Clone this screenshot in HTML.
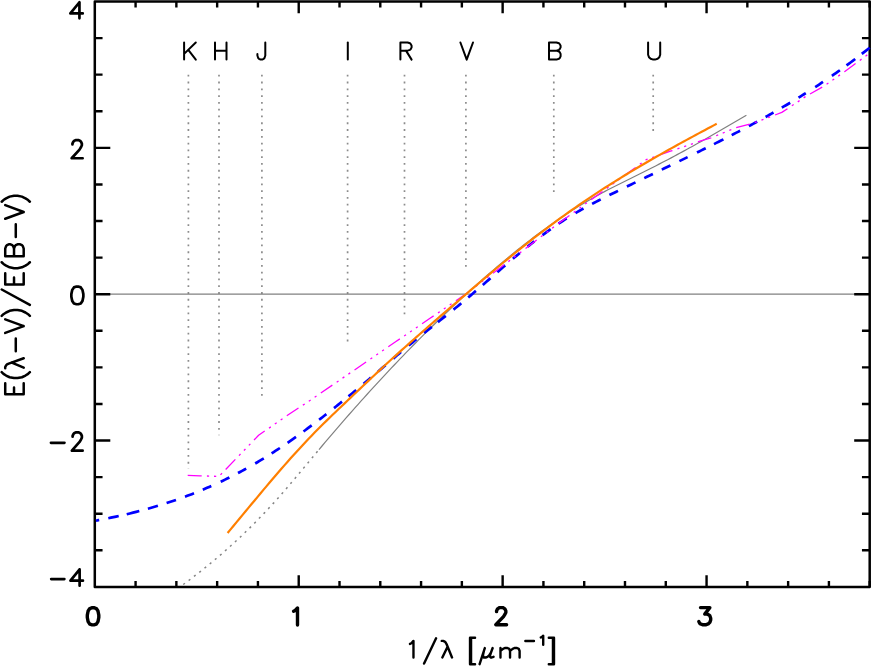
<!DOCTYPE html>
<html>
<head>
<meta charset="utf-8">
<title>Extinction curve</title>
<style>
html,body{margin:0;padding:0;background:#fff;font-family:"Liberation Sans",sans-serif;}
svg{display:block;}
</style>
</head>
<body>
<svg width="872" height="667" viewBox="0 0 872 667">
<rect x="0" y="0" width="872" height="667" fill="#fff"/>
<line x1="188.40" y1="74.8" x2="188.40" y2="468.80" stroke="#8c8c8c" stroke-width="1.7" stroke-dasharray="1.8 4.99" />
<line x1="219.00" y1="74.8" x2="219.00" y2="435.30" stroke="#8c8c8c" stroke-width="1.7" stroke-dasharray="1.8 4.99" />
<line x1="261.90" y1="74.8" x2="261.90" y2="395.80" stroke="#8c8c8c" stroke-width="1.7" stroke-dasharray="1.8 4.99" />
<line x1="347.60" y1="74.8" x2="347.60" y2="341.50" stroke="#8c8c8c" stroke-width="1.7" stroke-dasharray="1.8 4.99" />
<line x1="404.50" y1="74.8" x2="404.50" y2="315.00" stroke="#8c8c8c" stroke-width="1.7" stroke-dasharray="1.8 4.99" />
<line x1="465.90" y1="74.8" x2="465.90" y2="266.80" stroke="#8c8c8c" stroke-width="1.7" stroke-dasharray="1.8 4.99" />
<line x1="553.80" y1="74.8" x2="553.80" y2="192.10" stroke="#8c8c8c" stroke-width="1.7" stroke-dasharray="1.8 4.99" />
<line x1="653.20" y1="74.8" x2="653.20" y2="131.00" stroke="#8c8c8c" stroke-width="1.7" stroke-dasharray="1.8 4.99" />
<line x1="94.80" y1="294.2" x2="869.70" y2="294.2" stroke="#808080" stroke-width="1.2"/>
<rect x="94.80" y="1.50" width="774.90" height="585.40" fill="none" stroke="#000" stroke-width="2.50" stroke-linejoin="round"/>
<path d="M135.58,586.90 V581.00 M135.58,1.50 V7.40 M176.37,586.90 V581.00 M176.37,1.50 V7.40 M217.15,586.90 V581.00 M217.15,1.50 V7.40 M257.94,586.90 V581.00 M257.94,1.50 V7.40 M298.72,586.90 V575.15 M298.72,1.50 V13.25 M339.51,586.90 V581.00 M339.51,1.50 V7.40 M380.29,586.90 V581.00 M380.29,1.50 V7.40 M421.07,586.90 V581.00 M421.07,1.50 V7.40 M461.86,586.90 V581.00 M461.86,1.50 V7.40 M502.64,586.90 V575.15 M502.64,1.50 V13.25 M543.43,586.90 V581.00 M543.43,1.50 V7.40 M584.21,586.90 V581.00 M584.21,1.50 V7.40 M624.99,586.90 V581.00 M624.99,1.50 V7.40 M665.78,586.90 V581.00 M665.78,1.50 V7.40 M706.56,586.90 V575.15 M706.56,1.50 V13.25 M747.35,586.90 V581.00 M747.35,1.50 V7.40 M788.13,586.90 V581.00 M788.13,1.50 V7.40 M828.92,586.90 V581.00 M828.92,1.50 V7.40 M869.70,586.90 V581.00 M869.70,1.50 V7.40 M94.80,550.31 H102.55 M869.70,550.31 H861.95 M94.80,513.73 H102.55 M869.70,513.73 H861.95 M94.80,477.14 H102.55 M869.70,477.14 H861.95 M94.80,440.55 H110.30 M869.70,440.55 H854.20 M94.80,403.96 H102.55 M869.70,403.96 H861.95 M94.80,367.38 H102.55 M869.70,367.38 H861.95 M94.80,330.79 H102.55 M869.70,330.79 H861.95 M94.80,294.20 H110.30 M869.70,294.20 H854.20 M94.80,257.61 H102.55 M869.70,257.61 H861.95 M94.80,221.02 H102.55 M869.70,221.02 H861.95 M94.80,184.44 H102.55 M869.70,184.44 H861.95 M94.80,147.85 H110.30 M869.70,147.85 H854.20 M94.80,111.26 H102.55 M869.70,111.26 H861.95 M94.80,74.67 H102.55 M869.70,74.67 H861.95 M94.80,38.09 H102.55 M869.70,38.09 H861.95" fill="none" stroke="#000" stroke-width="2.4"/>
<path d="M183.25,584.48 L186.26,582.27 L189.27,580.03 L192.27,577.76 L195.28,575.46 L198.29,573.13 L201.30,570.76 L204.30,568.37 L207.31,565.94 L210.32,563.48 L213.33,560.99 L216.34,558.46 L219.34,555.90 L222.35,553.30 L225.36,550.66 L228.37,547.99 L231.37,545.28 L234.38,542.54 L237.39,539.75 L240.40,536.93 L243.41,534.07 L246.41,531.16 L249.42,528.22 L252.43,525.23 L255.44,522.21 L258.44,519.14 L261.45,516.03 L264.46,512.87 L267.47,509.67 L270.48,506.42 L273.48,503.13 L276.49,499.80 L279.50,496.42 L282.51,492.99 L285.51,489.52 L288.52,486.02 L291.53,482.49 L294.54,478.93 L297.55,475.35 L300.55,471.75 L303.56,468.14 L306.57,464.52 L309.58,460.90 L312.58,457.29 L315.59,453.67 L318.60,450.07" fill="none" stroke="#858585" stroke-width="1.50" stroke-linejoin="round" stroke-linecap="butt" stroke-dasharray="2.1 4.6"/>
<path d="M319.00,449.60 L322.01,446.01 L325.02,442.44 L328.03,438.89 L331.04,435.36 L334.05,431.84 L337.06,428.34 L340.07,424.85 L343.08,421.38 L346.09,417.93 L349.10,414.50 L352.11,411.08 L355.12,407.68 L358.13,404.29 L361.14,400.92 L364.15,397.57 L367.16,394.24 L370.17,390.92 L373.18,387.62 L376.19,384.34 L379.20,381.07 L382.21,377.83 L385.22,374.59 L388.23,371.38 L391.24,368.18 L394.25,365.00 L397.26,361.84 L400.27,358.69 L403.28,355.56 L406.29,352.45 L409.30,349.36 L412.31,346.28 L415.32,343.22 L418.33,340.18 L421.34,337.16 L424.35,334.15 L427.35,331.16 L430.36,328.19 L433.37,325.23 L436.38,322.29 L439.39,319.37 L442.40,316.47 L445.41,313.59 L448.42,310.72 L451.43,307.87 L454.44,305.04 L457.45,302.23 L460.46,299.43 L463.47,296.65 L466.48,293.89 L469.49,291.15 L472.50,288.42 L475.51,285.72 L478.52,283.03 L481.53,280.36 L484.54,277.70 L487.55,275.07 L490.56,272.45 L493.57,269.86 L496.58,267.28 L499.59,264.73 L502.60,262.19 L505.61,259.68 L508.62,257.18 L511.63,254.71 L514.64,252.27 L517.65,249.84 L520.66,247.44 L523.67,245.06 L526.68,242.71 L529.69,240.38 L532.70,238.08 L535.71,235.80 L538.72,233.55 L541.73,231.32 L544.74,229.12 L547.75,226.95 L550.76,224.81 L553.77,222.69 L556.78,220.60 L559.79,218.54 L562.80,216.52 L565.81,214.52 L568.82,212.55 L571.83,210.61 L574.84,208.70 L577.85,206.83 L580.86,204.98 L583.87,203.17 L586.88,201.39 L589.89,199.65 L592.90,197.94 L595.91,196.26 L598.92,194.60 L601.93,192.98 L604.94,191.38 L607.95,189.80 L610.96,188.25 L613.97,186.71 L616.98,185.18 L619.99,183.67 L623.00,182.17 L626.01,180.68 L629.02,179.19 L632.03,177.70 L635.04,176.22 L638.05,174.74 L641.05,173.25 L644.06,171.76 L647.07,170.26 L650.08,168.75 L653.09,167.23 L656.10,165.70 L659.11,164.15 L662.12,162.59 L665.13,161.02 L668.14,159.44 L671.15,157.85 L674.16,156.25 L677.17,154.63 L680.18,153.01 L683.19,151.38 L686.20,149.73 L689.21,148.08 L692.22,146.42 L695.23,144.75 L698.24,143.07 L701.25,141.38 L704.26,139.68 L707.27,137.98 L710.28,136.26 L713.29,134.54 L716.30,132.82 L719.31,131.08 L722.32,129.34 L725.33,127.59 L728.34,125.84 L731.35,124.08 L734.36,122.31 L737.37,120.54 L740.38,118.77 L743.39,116.99 L746.40,115.20" fill="none" stroke="#808080" stroke-width="1.20" stroke-linejoin="round" stroke-linecap="butt"/>
<path d="M95.90,520.61 L96.73,520.46 L97.55,520.30 L98.38,520.15 L99.20,520.00 M108.30,518.22 L110.90,517.69 L113.50,517.15 L116.10,516.59 L118.70,516.02 M126.70,514.19 L129.85,513.44 L133.00,512.66 L136.15,511.87 L139.30,511.05 M147.90,508.72 L150.40,508.01 L152.90,507.29 L155.40,506.55 L157.90,505.80 M166.60,503.08 L168.95,502.31 L171.30,501.53 L173.65,500.73 L176.00,499.93 M185.00,496.70 L187.25,495.86 L189.50,495.00 L191.75,494.14 L194.00,493.25 M202.80,489.67 L204.93,488.77 L207.05,487.86 L209.18,486.94 L211.30,486.00 M220.70,481.70 L222.88,480.66 L225.05,479.61 L227.22,478.55 L229.40,477.47 M238.00,473.05 L240.05,471.97 L242.10,470.87 L244.15,469.75 L246.20,468.62 M255.20,463.49 L257.35,462.23 L259.50,460.94 L261.65,459.64 L263.80,458.33 M271.60,453.43 L273.68,452.09 L275.75,450.74 L277.82,449.38 L279.90,448.00 M287.60,442.78 L289.70,441.33 L291.80,439.86 L293.90,438.38 L296.00,436.89 M303.50,431.48 L305.55,429.97 L307.60,428.46 L309.65,426.93 L311.70,425.40 M319.10,419.77 L320.93,418.37 L322.75,416.96 L324.57,415.54 L326.40,414.11 M334.00,408.11 L336.00,406.51 L338.00,404.91 L340.00,403.29 L342.00,401.67 M348.50,396.37 L350.43,394.79 L352.35,393.20 L354.27,391.60 L356.20,390.01 M363.60,383.82 L365.43,382.28 L367.25,380.74 L369.07,379.20 L370.90,377.65 M378.10,371.52 L379.95,369.94 L381.80,368.36 L383.65,366.78 L385.50,365.20 M393.20,358.63 L395.15,356.97 L397.10,355.31 L399.05,353.66 L401.00,352.01 M408.70,345.56 L410.62,343.97 L412.55,342.38 L414.47,340.80 L416.40,339.23 M424.20,332.94 L426.12,331.40 L428.05,329.87 L429.97,328.35 L431.90,326.82 M437.90,322.08 L439.88,320.52 L441.85,318.96 L443.82,317.39 L445.80,315.82 M453.50,309.65 L455.45,308.07 L457.40,306.48 L459.35,304.88 L461.30,303.27 M468.20,297.48 L470.12,295.85 L472.05,294.20 L473.97,292.55 L475.90,290.89 M482.80,284.90 L484.73,283.22 L486.65,281.54 L488.57,279.86 L490.50,278.18 M497.40,272.15 L499.35,270.45 L501.30,268.75 L503.25,267.06 L505.20,265.38 M512.90,258.78 L514.62,257.32 L516.35,255.87 L518.07,254.43 L519.80,253.00 M527.50,246.71 L529.23,245.33 L530.95,243.96 L532.67,242.60 L534.40,241.25 M542.50,235.08 L544.55,233.56 L546.60,232.06 L548.65,230.58 L550.70,229.12 M558.50,223.73 L560.55,222.36 L562.60,221.02 L564.65,219.69 L566.70,218.39 M575.50,213.05 L577.50,211.89 L579.50,210.74 L581.50,209.61 L583.50,208.49 M592.10,203.86 L594.25,202.73 L596.40,201.62 L598.55,200.51 L600.70,199.42 M609.40,195.08 L611.55,194.02 L613.70,192.97 L615.85,191.92 L618.00,190.87 M626.90,186.53 L629.05,185.49 L631.20,184.44 L633.35,183.40 L635.50,182.35 M644.30,178.09 L646.45,177.04 L648.60,176.00 L650.75,174.96 L652.90,173.92 M661.80,169.61 L663.95,168.57 L666.10,167.53 L668.25,166.49 L670.40,165.45 M679.40,161.09 L681.45,160.09 L683.50,159.10 L685.55,158.10 L687.60,157.10 M697.00,152.51 L699.17,151.44 L701.35,150.37 L703.53,149.30 L705.70,148.22 M714.00,144.09 L716.35,142.91 L718.70,141.73 L721.05,140.54 L723.40,139.35 M731.70,135.10 L733.80,134.01 L735.90,132.92 L738.00,131.83 L740.10,130.73 M748.90,126.07 L750.98,124.96 L753.05,123.84 L755.12,122.71 L757.20,121.58 M765.60,116.95 L767.58,115.84 L769.55,114.73 L771.52,113.61 L773.50,112.49 M781.80,107.69 L783.90,106.46 L786.00,105.22 L788.10,103.97 L790.20,102.72 M798.50,97.67 L800.33,96.54 L802.15,95.41 L803.97,94.26 L805.80,93.11 M815.20,87.08 L817.15,85.80 L819.10,84.52 L821.05,83.22 L823.00,81.92 M831.90,75.85 L833.90,74.46 L835.90,73.06 L837.90,71.65 L839.90,70.23 M846.50,65.46 L848.67,63.86 L850.85,62.25 L853.03,60.62 L855.20,58.98 M861.80,53.93 L863.77,52.39 L865.75,50.84 L867.73,49.28 L869.70,47.70" fill="none" stroke="#0000ff" stroke-width="2.7" stroke-linecap="butt" stroke-linejoin="round"/>
<path d="M187.70,475.30 L200.00,475.80 L219.00,476.40 L258.60,435.30 L287.50,415.30 L310.00,400.45 L395.60,341.80 L429.30,318.80 L465.80,294.00" fill="none" stroke="#ff00ff" stroke-width="1.30" stroke-linejoin="round" stroke-linecap="butt" stroke-dasharray="14 5.25 2.2 4.9 2.2 4.9 2.2 5.25"/>
<path d="M465.80,294.00 L556.00,225.30 L646.20,159.70 L670.40,151.20 L700.00,141.20 L710.90,137.90 L735.90,127.70 L750.50,123.90 L756.80,121.80 L773.50,115.60 L781.80,112.40 L788.10,108.30 L806.90,95.70 L823.60,86.40 L844.50,71.70 L868.50,54.00" fill="none" stroke="#ff00ff" stroke-width="1.30" stroke-linejoin="round" stroke-linecap="butt" stroke-dasharray="14 5.25 2.2 4.9 2.2 4.9 2.2 5.25" stroke-dashoffset="6.69"/>
<path d="M227.60,533.00 L230.60,529.39 L233.60,525.77 L236.60,522.15 L239.60,518.53 L242.60,514.90 L245.60,511.28 L248.60,507.66 L251.60,504.04 L254.61,500.43 L257.61,496.83 L260.61,493.24 L263.61,489.66 L266.61,486.10 L269.61,482.55 L272.61,479.02 L275.61,475.51 L278.61,472.02 L281.61,468.56 L284.61,465.12 L287.61,461.71 L290.61,458.33 L293.61,454.98 L296.61,451.67 L299.61,448.39 L302.62,445.14 L305.62,441.94 L308.62,438.78 L311.62,435.66 L314.62,432.58 L317.62,429.54 L320.62,426.54 L323.62,423.56 L326.62,420.62 L329.62,417.70 L332.62,414.80 L335.62,411.92 L338.62,409.05 L341.62,406.19 L344.62,403.34 L347.62,400.49 L350.63,397.64 L353.63,394.79 L356.63,391.94 L359.63,389.10 L362.63,386.25 L365.63,383.41 L368.63,380.58 L371.63,377.76 L374.63,374.94 L377.63,372.14 L380.63,369.34 L383.63,366.56 L386.63,363.80 L389.63,361.05 L392.63,358.31 L395.63,355.59 L398.63,352.88 L401.64,350.18 L404.64,347.49 L407.64,344.82 L410.64,342.15 L413.64,339.50 L416.64,336.85 L419.64,334.21 L422.64,331.59 L425.64,328.96 L428.64,326.35 L431.64,323.74 L434.64,321.14 L437.64,318.54 L440.64,315.95 L443.64,313.37 L446.64,310.78 L449.65,308.20 L452.65,305.62 L455.65,303.05 L458.65,300.47 L461.65,297.90 L464.65,295.33 L467.65,292.75 L470.65,290.18 L473.65,287.61 L476.65,285.04 L479.65,282.47 L482.65,279.91 L485.65,277.36 L488.65,274.82 L491.65,272.29 L494.65,269.76 L497.66,267.25 L500.66,264.76 L503.66,262.27 L506.66,259.80 L509.66,257.35 L512.66,254.91 L515.66,252.48 L518.66,250.07 L521.66,247.67 L524.66,245.29 L527.66,242.92 L530.66,240.57 L533.66,238.23 L536.66,235.91 L539.66,233.61 L542.66,231.32 L545.67,229.05 L548.67,226.80 L551.67,224.56 L554.67,222.34 L557.67,220.13 L560.67,217.95 L563.67,215.78 L566.67,213.63 L569.67,211.49 L572.67,209.38 L575.67,207.28 L578.67,205.20 L581.67,203.14 L584.67,201.10 L587.67,199.08 L590.67,197.07 L593.67,195.08 L596.68,193.10 L599.68,191.15 L602.68,189.20 L605.68,187.28 L608.68,185.36 L611.68,183.47 L614.68,181.58 L617.68,179.72 L620.68,177.86 L623.68,176.02 L626.68,174.19 L629.68,172.38 L632.68,170.57 L635.68,168.78 L638.68,167.00 L641.68,165.23 L644.69,163.48 L647.69,161.73 L650.69,160.00 L653.69,158.27 L656.69,156.56 L659.69,154.85 L662.69,153.16 L665.69,151.47 L668.69,149.79 L671.69,148.12 L674.69,146.46 L677.69,144.80 L680.69,143.15 L683.69,141.51 L686.69,139.87 L689.69,138.25 L692.70,136.62 L695.70,135.01 L698.70,133.39 L701.70,131.79 L704.70,130.18 L707.70,128.59 L710.70,126.99 L713.70,125.40 L716.70,123.81" fill="none" stroke="#ff7f00" stroke-width="2.20" stroke-linejoin="round" stroke-linecap="butt"/>
<path d="M92.23,607.70 L89.76,608.52 L88.12,610.98 L87.30,615.07 L87.30,617.53 L88.12,621.62 L89.76,624.08 L92.23,624.90 L93.87,624.90 L96.34,624.08 L97.98,621.62 L98.80,617.53 L98.80,615.07 L97.98,610.98 L96.34,608.52 L93.87,607.70 L92.23,607.70" fill="none" stroke="#000" stroke-width="3.40" stroke-linecap="round" stroke-linejoin="round"/>
<path d="M293.55,611.20 L295.13,610.39 L297.50,607.95 L297.50,625.00" fill="none" stroke="#000" stroke-width="3.40" stroke-linecap="round" stroke-linejoin="round"/>
<path d="M496.57,611.67 L496.57,610.86 L497.34,609.23 L498.11,608.41 L499.66,607.60 L502.74,607.60 L504.29,608.41 L505.06,609.23 L505.83,610.86 L505.83,612.49 L505.06,614.11 L503.51,616.56 L495.80,624.70 L506.60,624.70" fill="none" stroke="#000" stroke-width="3.40" stroke-linecap="round" stroke-linejoin="round"/>
<path d="M700.50,607.60 L709.85,607.60 L704.75,614.15 L707.30,614.15 L709.00,614.97 L709.85,615.79 L710.70,618.25 L710.70,619.89 L709.85,622.34 L708.15,623.98 L705.60,624.80 L703.05,624.80 L700.50,623.98 L699.65,623.16 L698.80,621.52" fill="none" stroke="#000" stroke-width="3.40" stroke-linecap="round" stroke-linejoin="round"/>
<path d="M79.44,2.25 L70.35,13.44 L82.75,13.44 M79.44,2.25 L79.44,18.35" fill="none" stroke="#000" stroke-width="2.70" stroke-linecap="round" stroke-linejoin="round"/>
<path d="M72.44,144.46 L72.44,143.60 L73.22,141.87 L74.01,141.01 L75.58,140.15 L78.72,140.15 L80.29,141.01 L81.08,141.87 L81.86,143.60 L81.86,145.32 L81.08,147.05 L79.51,149.63 L71.65,158.25 L82.65,158.25" fill="none" stroke="#000" stroke-width="2.70" stroke-linecap="round" stroke-linejoin="round"/>
<path d="M76.49,286.55 L73.92,287.39 L72.21,289.92 L71.35,294.14 L71.35,296.66 L72.21,300.88 L73.92,303.41 L76.49,304.25 L78.21,304.25 L80.78,303.41 L82.49,300.88 L83.35,296.66 L83.35,294.14 L82.49,289.92 L80.78,287.39 L78.21,286.55 L76.49,286.55" fill="none" stroke="#000" stroke-width="2.70" stroke-linecap="round" stroke-linejoin="round"/>
<path d="M50.95,442.85 H64.45" fill="none" stroke="#000" stroke-width="2.70" stroke-linecap="round"/>
<path d="M72.62,436.71 L72.62,435.84 L73.39,434.09 L74.16,433.22 L75.71,432.35 L78.79,432.35 L80.34,433.22 L81.11,434.09 L81.88,435.84 L81.88,437.58 L81.11,439.32 L79.56,441.94 L71.85,450.65 L82.65,450.65" fill="none" stroke="#000" stroke-width="2.70" stroke-linecap="round" stroke-linejoin="round"/>
<path d="M51.20,579.10 H64.35" fill="none" stroke="#000" stroke-width="2.70" stroke-linecap="round"/>
<path d="M79.62,569.45 L70.45,580.71 L82.95,580.71 M79.62,569.45 L79.62,585.65" fill="none" stroke="#000" stroke-width="2.70" stroke-linecap="round" stroke-linejoin="round"/>
<path d="M184.10,42.50 L184.10,59.60 M195.80,42.50 L184.10,53.90 M188.28,49.83 L195.80,59.60" fill="none" stroke="#000" stroke-width="2.00" stroke-linecap="round" stroke-linejoin="round"/>
<path d="M215.00,42.50 L215.00,59.60 M226.50,42.50 L226.50,59.60 M215.00,50.64 L226.50,50.64" fill="none" stroke="#000" stroke-width="2.00" stroke-linecap="round" stroke-linejoin="round"/>
<path d="M265.30,42.50 L265.30,55.53 L264.51,57.97 L263.72,58.79 L262.14,59.60 L260.56,59.60 L258.98,58.79 L258.19,57.97 L257.40,55.53 L257.40,53.90" fill="none" stroke="#000" stroke-width="2.00" stroke-linecap="round" stroke-linejoin="round"/>
<path d="M347.80,42.50 L347.80,59.60" fill="none" stroke="#000" stroke-width="2.00" stroke-linecap="round" stroke-linejoin="round"/>
<path d="M400.40,42.50 L400.40,59.60 M400.40,42.50 L407.60,42.50 L410.00,43.31 L410.80,44.13 L411.60,45.76 L411.60,47.39 L410.80,49.01 L410.00,49.83 L407.60,50.64 L400.40,50.64 M406.00,50.64 L411.60,59.60" fill="none" stroke="#000" stroke-width="2.00" stroke-linecap="round" stroke-linejoin="round"/>
<path d="M460.40,42.50 L466.70,59.60 M473.00,42.50 L466.70,59.60" fill="none" stroke="#000" stroke-width="2.00" stroke-linecap="round" stroke-linejoin="round"/>
<path d="M549.00,42.50 L549.00,59.60 M549.00,42.50 L556.46,42.50 L558.94,43.31 L559.77,44.13 L560.60,45.76 L560.60,47.39 L559.77,49.01 L558.94,49.83 L556.46,50.64 M549.00,50.64 L556.46,50.64 L558.94,51.46 L559.77,52.27 L560.60,53.90 L560.60,56.34 L559.77,57.97 L558.94,58.79 L556.46,59.60 L549.00,59.60" fill="none" stroke="#000" stroke-width="2.00" stroke-linecap="round" stroke-linejoin="round"/>
<path d="M648.10,42.50 L648.10,54.71 L648.96,57.16 L650.69,58.79 L653.29,59.60 L655.01,59.60 L657.61,58.79 L659.34,57.16 L660.20,54.71 L660.20,42.50" fill="none" stroke="#000" stroke-width="2.00" stroke-linecap="round" stroke-linejoin="round"/>
<path d="M409.99,643.91 L411.38,643.28 L413.47,640.91 L413.47,657.50 M436.09,638.30 L424.08,663.58 M441.75,640.91 L443.05,640.91 L444.79,641.70 L445.66,642.49 L446.53,644.07 L452.01,657.50 M447.57,646.84 L442.35,657.50 M470.02,637.75 L470.02,664.22 M471.06,637.75 L471.06,664.22 M470.02,637.75 L475.07,637.75 M470.02,664.22 L475.07,664.22 M484.81,648.02 L479.59,664.22 M483.94,650.78 L483.07,654.74 L483.07,656.08 L483.94,657.50 L485.68,657.50 L487.42,656.87 L489.16,655.45 L490.90,652.76 M492.64,648.02 L490.90,652.76 L490.03,655.45 L490.03,656.79 L490.90,657.50 L491.77,657.50 L493.51,656.79 M500.47,648.02 L500.47,657.50 M500.47,650.94 L503.08,648.81 L504.82,648.02 L507.43,648.02 L509.17,648.81 L510.04,650.94 L510.04,657.50 M510.04,650.94 L512.65,648.81 L514.39,648.02 L517.00,648.02 L518.74,648.81 L519.61,650.94 L519.61,657.50 M525.35,640.95 L533.96,640.95 M540.82,637.47 L541.78,637.04 L543.21,635.74 L543.21,644.86 M552.96,637.75 L552.96,664.22 M554.00,637.75 L554.00,664.22 M548.78,637.75 L554.00,637.75 M548.78,664.22 L554.00,664.22" fill="none" stroke="#000" stroke-width="2.40" stroke-linecap="round" stroke-linejoin="round"/>
<path d="M5.22,394.29 L23.70,394.29 M5.22,394.29 L5.22,383.22 M14.02,394.29 L14.02,387.48 M23.70,394.29 L23.70,383.22 M1.70,372.14 L3.46,373.84 L6.10,375.55 L9.62,377.25 L14.02,378.10 L17.54,378.10 L21.94,377.25 L25.46,375.55 L28.10,373.84 L29.86,372.14 M5.22,368.31 L5.22,367.03 L6.10,365.32 L6.98,364.47 L8.74,363.62 L23.70,358.25 M11.82,362.60 L23.70,367.71 M15.78,351.27 L15.78,338.49 M5.22,332.95 L23.70,326.13 M5.22,319.32 L23.70,326.13 M1.70,315.91 L3.46,314.20 L6.10,312.50 L9.62,310.80 L14.02,309.94 L17.54,309.94 L21.94,310.80 L25.46,312.50 L28.10,314.20 L29.86,315.91 M1.70,289.50 L29.86,304.83 M5.22,284.38 L23.70,284.38 M5.22,284.38 L5.22,273.31 M14.02,284.38 L14.02,277.57 M23.70,284.38 L23.70,273.31 M1.70,262.23 L3.46,263.94 L6.10,265.64 L9.62,267.34 L14.02,268.20 L17.54,268.20 L21.94,267.34 L25.46,265.64 L28.10,263.94 L29.86,262.23 M5.22,256.27 L23.70,256.27 M5.22,256.27 L5.22,248.60 L6.10,246.04 L6.98,245.19 L8.74,244.34 L10.50,244.34 L12.26,245.19 L13.14,246.04 L14.02,248.60 M14.02,256.27 L14.02,248.60 L14.90,246.04 L15.78,245.19 L17.54,244.34 L20.18,244.34 L21.94,245.19 L22.82,246.04 L23.70,248.60 L23.70,256.27 M15.78,237.10 L15.78,224.32 M5.22,218.78 L23.70,211.96 M5.22,205.15 L23.70,211.96 M1.70,201.74 L3.46,200.04 L6.10,198.33 L9.62,196.63 L14.02,195.78 L17.54,195.78 L21.94,196.63 L25.46,198.33 L28.10,200.04 L29.86,201.74" fill="none" stroke="#000" stroke-width="2.50" stroke-linecap="round" stroke-linejoin="round"/>
</svg>
</body>
</html>
